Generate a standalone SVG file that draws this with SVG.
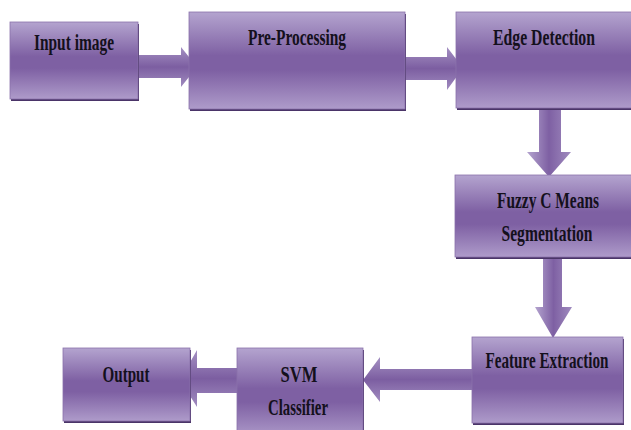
<svg xmlns="http://www.w3.org/2000/svg" width="631" height="430" viewBox="0 0 631 430">
<defs>
<linearGradient id="gv" x1="0" y1="0" x2="0" y2="1">
<stop offset="0" stop-color="#b4a4cf"/>
<stop offset="0.45" stop-color="#7e60a3"/>
<stop offset="0.6" stop-color="#7e60a3"/>
<stop offset="1" stop-color="#ae9bca"/>
</linearGradient>
<linearGradient id="gh" x1="0" y1="0" x2="1" y2="0">
<stop offset="0" stop-color="#b4a4cf"/>
<stop offset="0.5" stop-color="#7e60a3"/>
<stop offset="1" stop-color="#a08bbf"/>
</linearGradient>
<linearGradient id="ga" x1="0" y1="0" x2="0" y2="1">
<stop offset="0" stop-color="#a591c3"/>
<stop offset="0.5" stop-color="#7c5ea1"/>
<stop offset="1" stop-color="#a18cc0"/>
</linearGradient>
<style>
.box{fill:url(#gv);stroke:#8a72ab;stroke-width:0.8}
.sh{fill:#4a3468}
.arr{fill:url(#ga)}
.darr{fill:url(#gh)}
.t{font-family:"Liberation Serif","Times New Roman",serif;font-weight:bold;font-size:23px;fill:#14101c;text-anchor:middle}
</style>
</defs>
<g id="connectors">
<path class="arr" d="M138,55 H181 V47 L197,67 L181,87 V78 H138 Z"/>
<path class="arr" d="M405,57 H447 V47 L463,68 L447,90 V80 H405 Z"/>
<path class="darr" d="M539,107 H561 V152 H571 L549,177 L527,152 H539 Z"/>
<path class="darr" d="M543,256 H562 V307 H572 L553,338 L535,307 H543 Z"/>
<path class="arr" d="M472,369 V390 H380 V402 L363,380 L380,357 V369 Z"/>
<path class="arr" d="M237,368 V393 H197 V407 L180,380 L197,350 V368 Z"/>
</g>
<g id="input">
<rect class="sh" x="11" y="24" width="128" height="77"/>
<rect class="box" x="10" y="22" width="128" height="77"/>
<text class="t" x="74" y="50" textLength="80" lengthAdjust="spacingAndGlyphs">Input image</text>
</g>
<g id="preprocessing">
<rect class="sh" x="190" y="14" width="216" height="97"/>
<rect class="box" x="189" y="12" width="216" height="97"/>
<text class="t" x="297" y="45" textLength="98" lengthAdjust="spacingAndGlyphs">Pre-Processing</text>
</g>
<g id="edge">
<rect class="sh" x="457" y="14" width="176" height="96"/>
<rect class="box" x="456" y="12" width="176" height="96"/>
<text class="t" x="544" y="45" textLength="102" lengthAdjust="spacingAndGlyphs">Edge Detection</text>
</g>
<g id="fuzzy">
<rect class="sh" x="456" y="177" width="176" height="82"/>
<rect class="box" x="455" y="175" width="177" height="82"/>
<text class="t" x="548" y="208" textLength="102" lengthAdjust="spacingAndGlyphs">Fuzzy C Means</text>
<text class="t" x="547" y="241" textLength="91" lengthAdjust="spacingAndGlyphs">Segmentation</text>
</g>
<g id="feature">
<rect class="sh" x="473" y="339" width="151" height="86"/>
<rect class="box" x="472" y="337" width="151" height="86"/>
<text class="t" x="547" y="368" textLength="123" lengthAdjust="spacingAndGlyphs">Feature Extraction</text>
</g>
<g id="svm">
<rect class="sh" x="238" y="350" width="126" height="90"/>
<rect class="box" x="237" y="348" width="126" height="90"/>
<text class="t" x="299" y="382" textLength="37" lengthAdjust="spacingAndGlyphs">SVM</text>
<text class="t" x="298" y="415" textLength="60" lengthAdjust="spacingAndGlyphs">Classifier</text>
</g>
<g id="output">
<rect class="sh" x="64" y="350" width="127" height="73"/>
<rect class="box" x="63" y="348" width="127" height="73"/>
<text class="t" x="126" y="382" textLength="47" lengthAdjust="spacingAndGlyphs">Output</text>
</g>
</svg>
